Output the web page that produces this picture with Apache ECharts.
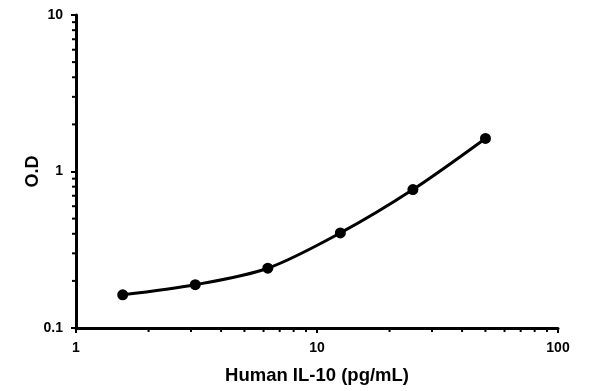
<!DOCTYPE html>
<html><head><meta charset="utf-8">
<script src="https://cdn.jsdelivr.net/npm/echarts@6/dist/echarts.min.js"></script>
<style>html,body{margin:0;padding:0;background:#fff}#c{width:595px;height:391px}</style>
</head><body><div id="c"></div>
<script>
const concentrations = [1.5625, 3.125, 6.25, 12.5, 25, 50];
const odValues = [0.163, 0.189, 0.241, 0.405, 0.767, 1.627];
const xMinorTicks = [2,3,4,5,6,7,8,9,20,30,40,50,60,70,80,90];
const yMinorTicks = [0.2,0.3,0.4,0.5,0.6,0.7,0.8,0.9,2,3,4,5,6,7,8,9];

const font = '"Liberation Sans", Arial, sans-serif';
const chart = echarts.init(document.getElementById('c'));
const tickData = xMinorTicks.map(v => [v, 0.1, 0]).concat(yMinorTicks.map(v => [1, v, 1]));
chart.setOption({
  animation: false,
  grid: {left: 76, right: 37, top: 15, bottom: 63},
  xAxis: {
    type: 'log', logBase: 10, min: 1, max: 100,
    name: 'Human IL-10 (pg/mL)', nameLocation: 'middle', nameGap: 38, nameMoveOverlap: false,
    nameTextStyle: {fontFamily: font, fontWeight: 'bold', fontSize: 18.5, color: '#000'},
    axisLine: {lineStyle: {color: '#000', width: 3}},
    axisTick: {show: true, length: 5, lineStyle: {color: '#000', width: 2}},
    axisLabel: {fontFamily: font, fontWeight: 'bold', fontSize: 14, color: '#000', margin: 13},
    splitLine: {show: false}
  },
  yAxis: {
    type: 'log', logBase: 10, min: 0.1, max: 10,
    name: 'O.D', nameLocation: 'middle', nameGap: 34, nameMoveOverlap: false,
    nameTextStyle: {fontFamily: font, fontWeight: 'bold', fontSize: 18, color: '#000'},
    axisLine: {lineStyle: {color: '#000', width: 3}},
    axisTick: {show: true, length: 5, lineStyle: {color: '#000', width: 2}},
    axisLabel: {fontFamily: font, fontWeight: 'bold', fontSize: 14, color: '#000', margin: 13},
    splitLine: {show: false}
  },
  series: [
    {
      type: 'line', data: concentrations.map((c, i) => [c, odValues[i]]),
      smooth: 0.3, symbol: 'circle', symbolSize: 11,
      lineStyle: {color: '#000', width: 3}, itemStyle: {color: '#000'}
    },
    {
      type: 'custom', silent: true, clip: false, z: 5,
      data: tickData,
      renderItem: function (params, api) {
        const p = api.coord([api.value(0), api.value(1)]);
        const isY = api.value(2) === 1;
        const shape = isY ? {x1: p[0] - 1, y1: p[1], x2: p[0] - 4, y2: p[1]}
                          : {x1: p[0], y1: p[1] + 1, x2: p[0], y2: p[1] + 4};
        return {type: 'line', shape: shape, style: {stroke: '#000', lineWidth: 2}};
      }
    }
  ]
});
</script></body></html>
